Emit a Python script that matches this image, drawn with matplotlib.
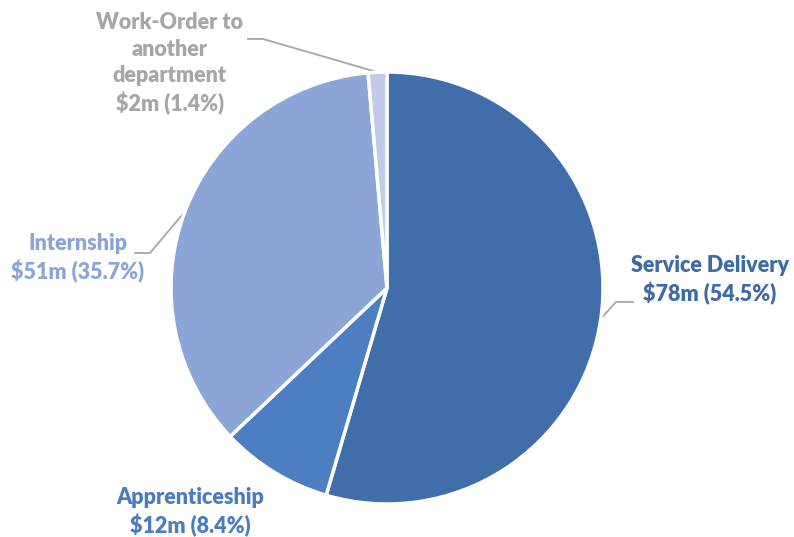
import numpy as np
import matplotlib.pyplot as plt

labels = ["Service Delivery", "Apprenticeship", "Internship", "Work-Order to\nanother\ndepartment"]
values = [78, 12, 51, 2]
percents = [54.5, 8.4, 35.7, 1.4]
colors = ["#416DAA", "#4C7FC1", "#8BA5D7", "#C1CBE7"]
text_colors = ["#3F6AA6", "#4A7DBF", "#8AA5D6", "#A6A6A6"]

plt.rcParams['font.family'] = ['Lato', 'DejaVu Sans']

fig = plt.figure(figsize=(7.94, 5.37), dpi=100)
W, H = 794, 537
cx, cy, r = 387, 288, 216
ax = fig.add_axes([(cx - r) / W, (H - cy - r) / H, 2 * r / W, 2 * r / H])

wedges, _ = ax.pie(values, colors=colors, startangle=90, counterclock=False,
                   radius=1, wedgeprops=dict(edgecolor="white", linewidth=2.5))
ax.set_xlim(-1, 1)
ax.set_ylim(-1, 1)
ax.set_aspect("equal")
ax.axis("off")

# label text positions (axes data units, radius = 1)
text_pos = [(1.495, 0.037), (-0.912, -1.037), (-1.431, 0.139), (-1.005, 1.037)]
# leader elbow and end points, None = no leader
leaders = [((1.060, -0.065), 1.139), None, ((-1.097, 0.162), -1.167), ((-0.574, 1.153), -0.644)]

for i, w in enumerate(wedges):
    txt = "%s\n$%dm (%.1f%%)" % (labels[i], values[i], percents[i])
    txt = txt.replace("$", r"\$")
    x, y = text_pos[i]
    ax.text(x, y, txt, ha="center", va="center", fontsize=15.5, fontweight="heavy",
            color=text_colors[i], linespacing=1.32, clip_on=False)
    if leaders[i] is not None:
        ang = np.deg2rad((w.theta1 + w.theta2) / 2)
        px, py = np.cos(ang), np.sin(ang)
        (ex, ey), endx = leaders[i]
        ax.plot([px, ex, endx], [py, ey, ey], color="#A6A6A6", lw=1.3,
                clip_on=False, zorder=0)

fig.savefig("out.png", dpi=100)
